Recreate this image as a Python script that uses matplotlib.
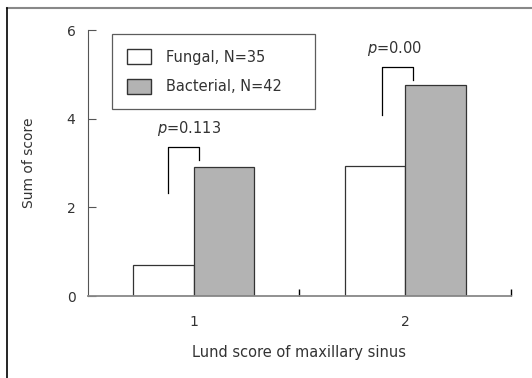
import matplotlib.pyplot as plt
from matplotlib.lines import Line2D
from matplotlib.patches import Patch
import numpy as np

categories = ['1', '2']
fungal = [0.71, 2.94]
bacterial = [2.91, 4.76]
series_names = ['Fungal, N=35', 'Bacterial, N=42']
p_labels = ['=0.113', '=0.00']

plt.rcParams['font.family'] = ['DejaVu Sans']
txt = '#333333'

fig = plt.figure(figsize=(5.32, 3.78), dpi=100)
ax = fig.add_axes([0.1654, 0.2169, 0.7951, 0.7037])

x = np.arange(1, len(categories) + 1)
w = 0.285
ax.bar(x - w / 2, fungal, w, color='white', edgecolor='#333333', linewidth=0.9)
ax.bar(x + w / 2, bacterial, w, color='#b3b3b3', edgecolor='#333333', linewidth=0.9)

ax.set_xlim(0.5, 2.5)
ax.set_ylim(0, 6)
ax.set_yticks([0, 2, 4, 6])
ax.set_xticks(x)
ax.set_xticklabels(categories)
ax.set_xticks([1.5, 2.5], minor=True)
ax.tick_params(axis='x', which='major', length=0, pad=14, labelsize=10, labelcolor=txt)
ax.tick_params(axis='x', which='minor', direction='in', length=5, width=1, color='black')
ax.tick_params(axis='y', direction='in', length=6, width=0.8, pad=9, labelsize=10,
               labelcolor=txt, color='#555555')
for s in ['top', 'right']:
    ax.spines[s].set_visible(False)
ax.spines['left'].set_color('#555555')
ax.spines['bottom'].set_color('#888888')
ax.spines['bottom'].set_linewidth(1.3)

ax.set_ylabel('Sum of score', fontsize=10, color=txt, labelpad=22)
ax.set_xlabel('Lund score of maxillary sinus', fontsize=10.5, color=txt, labelpad=11)

# significance brackets
brackets = [(0.877, 1.024, 2.32, 3.36, 3.06), (1.892, 2.038, 4.08, 5.16, 4.87)]
text_pos = [(0.976, 3.77), (1.948, 5.59)]
for (x0, x1, y0, yt, y1), (tx, ty), lab in zip(brackets, text_pos, p_labels):
    ax.plot([x0, x0, x1, x1], [y0, yt, yt, y1], color='black', lw=0.9)
    ax.text(tx, ty, r'$p$' + lab, ha='center', va='center', fontsize=10.5, color=txt)

handles = [Patch(facecolor='white', edgecolor='#333333'),
           Patch(facecolor='#b3b3b3', edgecolor='#333333')]
leg = ax.legend(handles, series_names, loc='upper left', bbox_to_anchor=(0.057, 0.985, 0.48, 0.0),
                mode='expand', frameon=True, fancybox=False, fontsize=10.5, handlelength=1.65,
                handleheight=1.2, handletextpad=1.0, borderpad=1.05, labelspacing=0.95,
                borderaxespad=0)
leg.get_frame().set_edgecolor('#333333')
leg.get_frame().set_linewidth(0.9)
for t in leg.get_texts():
    t.set_color(txt)

# page frame
fig.add_artist(Line2D([7 / 532, 1], [1 - 8 / 378, 1 - 8 / 378], color='#888888', lw=1.5))
fig.add_artist(Line2D([7 / 532, 7 / 532], [0, 1 - 8 / 378], color='black', lw=1.2))

fig.savefig('out.png', dpi=100)
